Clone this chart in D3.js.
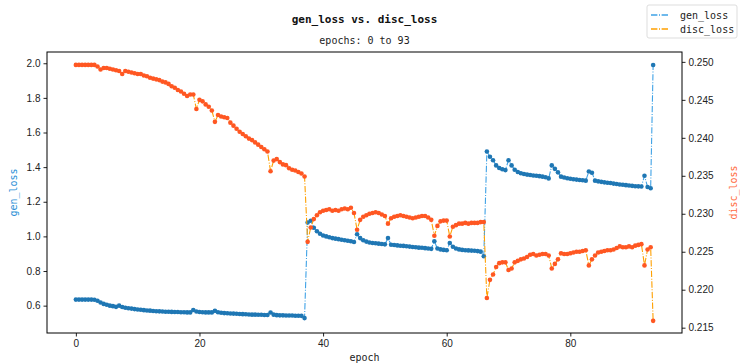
<!DOCTYPE html>
<html>
<head>
<meta charset="utf-8">
<script src="https://cdn.jsdelivr.net/npm/d3@7"></script>
<style>
  body { margin: 0; background: #fff; }
  svg { display: block; font-family: "DejaVu Sans Mono", monospace; }
  .tick text { font-size: 10px; fill: #222; }
</style>
</head>
<body>
<div id="chart"></div>
<script>
// epochs: half-epoch steps, final point just past 93
const epochs = [
  0, 0.5, 1, 1.5, 2, 2.5, 3, 3.5, 4, 4.5, 5, 5.5, 6, 6.5, 7, 7.5, 8, 8.5, 9, 9.5,
  10, 10.5, 11, 11.5, 12, 12.5, 13, 13.5, 14, 14.5, 15, 15.5, 16, 16.5, 17, 17.5, 18, 18.5, 19, 19.5,
  20, 20.5, 21, 21.5, 22, 22.5, 23, 23.5, 24, 24.5, 25, 25.5, 26, 26.5, 27, 27.5, 28, 28.5, 29, 29.5,
  30, 30.5, 31, 31.5, 32, 32.5, 33, 33.5, 34, 34.5, 35, 35.5, 36, 36.5, 37, 37.5, 38, 38.5, 39, 39.5,
  40, 40.5, 41, 41.5, 42, 42.5, 43, 43.5, 44, 44.5, 45, 45.5, 46, 46.5, 47, 47.5, 48, 48.5, 49, 49.5,
  50, 50.5, 51, 51.5, 52, 52.5, 53, 53.5, 54, 54.5, 55, 55.5, 56, 56.5, 57, 57.5, 58, 58.5, 59, 59.5,
  60, 60.5, 61, 61.5, 62, 62.5, 63, 63.5, 64, 64.5, 65, 65.5, 66, 66.5, 67, 67.5, 68, 68.5, 69, 69.5,
  70, 70.5, 71, 71.5, 72, 72.5, 73, 73.5, 74, 74.5, 75, 75.5, 76, 76.5, 77, 77.5, 78, 78.5, 79, 79.5,
  80, 80.5, 81, 81.5, 82, 82.5, 83, 83.5, 84, 84.5, 85, 85.5, 86, 86.5, 87, 87.5, 88, 88.5, 89, 89.5,
  90, 90.5, 91, 91.5, 92, 92.5, 93, 93.4
]

const genLoss = [
  .635, .635, .635, .635, .635, .635, .634, .628, .618, .610,
  .605, .600, .597, .593, .600, .592, .588, .585, .583, .580,
  .578, .576, .574, .572, .571, .569, .568, .567, .566, .565,
  .565, .564, .563, .563, .562, .562, .561, .561, .575, .566,
  .563, .562, .561, .561, .561, .570, .562, .559, .557, .556,
  .555, .554, .553, .552, .551, .550, .549, .548, .548, .547,
  .547, .546, .546, .560, .548, .545, .544, .544, .543, .543,
  .543, .542, .542, .541, .528, 1.08, 1.09, 1.05, 1.03, 1.015,
  1.005, 1.0, .995, .99, .987, .984, .981, .978, .975, .972,
  .968, 1.012, .99, .978, .97, .965, .962, .96, .958, .956,
  .954, .99, .952, .95, .948, .946, .945, .943, .941, .939,
  .937, .935, .934, .932, .930, .928, .972, .930, .925, .922,
  .92, .962, .94, .93, .925, .922, .92, .919, .918, .917,
  .915, .912, .885, 1.49, 1.46, 1.44, 1.41, 1.395, 1.388, 1.383,
  1.44, 1.41, 1.385, 1.372, 1.365, 1.36, 1.357, 1.355, 1.352, 1.35,
  1.348, 1.345, 1.342, 1.335, 1.41, 1.39, 1.37, 1.345, 1.34, 1.336,
  1.333, 1.33, 1.328, 1.326, 1.324, 1.322, 1.375, 1.368, 1.322, 1.318,
  1.315, 1.312, 1.31, 1.308, 1.305, 1.303, 1.3, 1.298, 1.296, 1.294,
  1.292, 1.29, 1.289, 1.288, 1.35, 1.285, 1.278, 1.99
]

const discLoss = [
  .2496, .2496, .2496, .2496, .2496, .2496, .2496, .2494, .2490, .2492,
  .2492, .2491, .2490, .2489, .2488, .2484, .2488, .2487, .2486, .2485,
  .2484, .2484, .2482, .2481, .2479, .2478, .2477, .2476, .2474, .2473,
  .2471, .2468, .2466, .2463, .2461, .2458, .2455, .2457, .2457, .2438,
  .2450, .2448, .2444, .2441, .2436, .2421, .2430, .2428, .2427, .2426,
  .2420, .2416, .2412, .2408, .2405, .2402, .2399, .2397, .2394, .2391,
  .2388, .2385, .2382, .2356, .2370, .2372, .2368, .2365, .2364, .2360,
  .2358, .2357, .2355, .2353, .2349, .2263, .2282, .2293, .2298, .2302,
  .2304, .2305, .2306, .2304, .2305, .2304, .2306, .2307, .2306, .2308,
  .2301, .2279, .2292, .2296, .2298, .2300, .2301, .2302, .2301, .2299,
  .2297, .2287, .2294, .2296, .2297, .2298, .2297, .2296, .2295, .2294,
  .2295, .2296, .2297, .2297, .2295, .2292, .2271, .2284, .2290, .2291,
  .2291, .2270, .2283, .2285, .2287, .2287, .2288, .2287, .2288, .2288,
  .2288, .2289, .2289, .2189, .2213, .2220, .2230, .2235, .2236, .2236,
  .2226, .2228, .2236, .2238, .2240, .2241, .2243, .2246, .2247, .2245,
  .2246, .2247, .2247, .2245, .2228, .2234, .2240, .2248, .2247, .2247,
  .2248, .2249, .2250, .2250, .2251, .2252, .2232, .2240, .2245, .2249,
  .2250, .2251, .2252, .2252, .2253, .2255, .2257, .2256, .2256, .2257,
  .2256, .2258, .2259, .2260, .2232, .2253, .2256, .2159
]

const xTicks = [0, 20, 40, 60, 80]
const genTicks = [0.6, 0.8, 1.0, 1.2, 1.4, 1.6, 1.8, 2.0]
const discTicks = [0.215, 0.22, 0.225, 0.23, 0.235, 0.24, 0.245, 0.25]

const width = 740
const height = 363
const plotLeft = 47, plotRight = 682, plotTop = 52, plotBottom = 333

const genLine = '#3fa2e6', genDot = '#1f77b4'
const discLine = '#ffa000', discDot = '#ff5722'
const dashDot = '6.4,1.6,1,1.6'

const x = d3.scaleLinear().domain([-4.67, 98.07]).range([plotLeft, plotRight])
const yGen = d3.scaleLinear().domain([0.442, 2.065]).range([plotBottom, plotTop])
const yDisc = d3.scaleLinear().domain([0.2143, 0.2513]).range([plotBottom, plotTop])

const svg = d3.select('#chart')
  .append('svg')
  .attr('width', width)
  .attr('height', height)

// titles
svg.append('text')
  .attr('x', (plotLeft + plotRight) / 2)
  .attr('y', 23)
  .attr('text-anchor', 'middle')
  .style('font-size', '11px')
  .style('font-weight', 'bold')
  .attr('fill', '#111')
  .text('gen_loss vs. disc_loss')

svg.append('text')
  .attr('x', (plotLeft + plotRight) / 2)
  .attr('y', 44)
  .attr('text-anchor', 'middle')
  .style('font-size', '10px')
  .attr('fill', '#222')
  .text('epochs: 0 to 93')

// axes
svg.append('g')
  .attr('transform', `translate(0,${plotBottom})`)
  .call(d3.axisBottom(x).tickValues(xTicks).tickFormat(d3.format('d')).tickSizeOuter(0).tickSize(3.5))

svg.append('g')
  .attr('transform', `translate(${plotLeft},0)`)
  .call(d3.axisLeft(yGen).tickValues(genTicks).tickFormat(d3.format('.1f')).tickSizeOuter(0).tickSize(3.5))

svg.append('g')
  .attr('transform', `translate(${plotRight},0)`)
  .call(d3.axisRight(yDisc).tickValues(discTicks).tickFormat(d3.format('.3f')).tickSizeOuter(0).tickSize(3.5))

svg.selectAll('.domain').remove()
svg.selectAll('.tick line').attr('stroke', '#222')

svg.append('rect')
  .attr('x', plotLeft)
  .attr('y', plotTop)
  .attr('width', plotRight - plotLeft)
  .attr('height', plotBottom - plotTop)
  .attr('fill', 'none')
  .attr('stroke', '#000')
  .attr('stroke-width', 1)

// axis labels
svg.append('text')
  .attr('x', (plotLeft + plotRight) / 2)
  .attr('y', 361)
  .attr('text-anchor', 'middle')
  .style('font-size', '10px')
  .attr('fill', '#222')
  .text('epoch')

svg.append('text')
  .attr('transform', `translate(17,${(plotTop + plotBottom) / 2}) rotate(-90)`)
  .attr('text-anchor', 'middle')
  .style('font-size', '10px')
  .attr('fill', '#2c8fd6')
  .text('gen_loss')

svg.append('text')
  .attr('transform', `translate(737,${(plotTop + plotBottom) / 2}) rotate(-90)`)
  .attr('text-anchor', 'middle')
  .style('font-size', '10px')
  .attr('fill', '#ff6a40')
  .text('disc_loss')

// series
const genData = epochs.map((e, i) => [e, genLoss[i]])
const discData = epochs.map((e, i) => [e, discLoss[i]])

const plot = svg.append('g')

function drawSeries(data, y, lineColor, dotColor) {
  plot.append('path')
    .datum(data)
    .attr('d', d3.line().x(d => x(d[0])).y(d => y(d[1])))
    .attr('fill', 'none')
    .attr('stroke', lineColor)
    .attr('stroke-width', 1.1)
    .attr('stroke-dasharray', dashDot)

  plot.append('g')
    .selectAll('circle')
    .data(data)
    .enter()
    .append('circle')
    .attr('cx', d => x(d[0]))
    .attr('cy', d => y(d[1]))
    .attr('r', 2.3)
    .attr('fill', dotColor)
}

drawSeries(genData, yGen, genLine, genDot)
drawSeries(discData, yDisc, discLine, discDot)

// legend
const legend = svg.append('g').attr('transform', 'translate(647,5)')
legend.append('rect')
  .attr('width', 90)
  .attr('height', 33)
  .attr('rx', 2)
  .attr('fill', '#fff')
  .attr('stroke', '#ddd')

const items = [['gen_loss', genLine], ['disc_loss', discLine]]
items.forEach(([name, color], i) => {
  const g = legend.append('g').attr('transform', `translate(0,${10 + i * 14})`)
  g.append('line')
    .attr('x1', 4).attr('x2', 22)
    .attr('stroke', color)
    .attr('stroke-width', 1.5)
    .attr('stroke-dasharray', dashDot)
  g.append('text')
    .attr('x', 33)
    .attr('y', 3.5)
    .style('font-size', '10px')
    .attr('fill', '#222')
    .text(name)
})
</script>
</body>
</html>
